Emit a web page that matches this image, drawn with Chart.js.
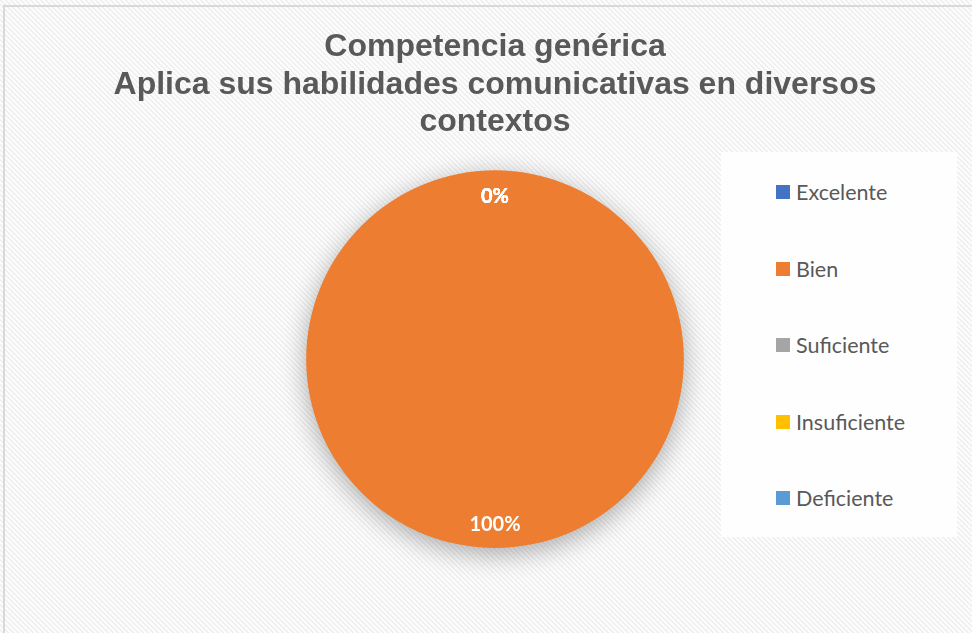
<!DOCTYPE html>
<html>
<head>
<meta charset="utf-8">
<script src="https://cdn.jsdelivr.net/npm/chart.js@4"></script>
<style>
  html, body { margin: 0; padding: 0; background: #fff; }
  #wrap { position: relative; width: 972px; height: 633px; overflow: hidden; }
  #legend {
    position: absolute; left: 721px; top: 152px; width: 236px; height: 385px;
    background: #fefefe; box-sizing: border-box; padding: 2px 0 0 55px;
    font-family: Lato, sans-serif; font-size: 21.5px; color: #595959;
  }
  .item { height: 76.5px; display: flex; align-items: center; }
  .sw { width: 14px; height: 14px; margin-right: 6px; flex: none; }
</style>
</head>
<body>
<div id="wrap">
  <canvas id="pieChart" width="972" height="633"></canvas>
  <div id="legend"></div>
</div>
<script>
// Data
const categories = ['Excelente', 'Bien', 'Suficiente', 'Insuficiente', 'Deficiente'];
const percentages = [0, 100, 0, 0, 0];
const sliceColors = ['#4472C4', '#ED7D31', '#A5A5A5', '#FFC000', '#5B9BD5'];
const titleLines = ['Competencia genérica', 'Aplica sus habilidades comunicativas en diversos', 'contextos'];

// striped background + thin frame, like the office chart area
const backgroundPlugin = {
    id: 'stripes',
    beforeDraw(chart) {
        const ctx = chart.ctx;
        const tile = document.createElement('canvas');
        tile.width = 5; tile.height = 5;
        const t = tile.getContext('2d');
        t.fillStyle = '#fcfcfc';
        t.fillRect(0, 0, 5, 5);
        t.fillStyle = '#efefef';
        for (let y = 0; y < 5; y++) {
            for (let x = 0; x < 5; x++) {
                if (((x - y) % 5 + 5) % 5 < 2) t.fillRect(x, y, 1, 1);
            }
        }
        ctx.save();
        ctx.fillStyle = ctx.createPattern(tile, 'repeat');
        ctx.fillRect(0, 0, chart.width, chart.height);
        ctx.strokeStyle = '#d9d9d9';
        ctx.lineWidth = 2;
        ctx.strokeRect(4, 6, chart.width + 10, chart.height + 10);
        ctx.restore();
    }
};

// soft shadow under the pie
const shadowPlugin = {
    id: 'pieShadow',
    beforeDatasetsDraw(chart) {
        const ctx = chart.ctx;
        ctx.save();
        ctx.shadowColor = 'rgba(0, 0, 0, 0.32)';
        ctx.shadowBlur = 26;
        ctx.shadowOffsetY = 6;
    },
    afterDatasetsDraw(chart) {
        chart.ctx.restore();
    }
};

// percentage labels inside the slices
const percentLabels = {
    id: 'percentLabels',
    afterDatasetsDraw(chart) {
        const ctx = chart.ctx;
        const meta = chart.getDatasetMeta(0);
        const values = chart.data.datasets[0].data;
        const total = values.reduce((a, b) => a + b, 0);
        ctx.save();
        ctx.font = 'bold 20px Lato, sans-serif';
        ctx.fillStyle = '#ffffff';
        ctx.textAlign = 'center';
        ctx.textBaseline = 'middle';
        meta.data.forEach((arc, i) => {
            const p = arc.getProps(['x', 'y', 'startAngle', 'endAngle', 'outerRadius'], true);
            const mid = (p.startAngle + p.endAngle) / 2;
            const r = p.outerRadius * 0.868;
            const text = Math.round(values[i] / total * 100) + '%';
            ctx.fillText(text, p.x + Math.cos(mid) * r, p.y + Math.sin(mid) * r + 1);
        });
        ctx.restore();
    }
};

const pieCtx = document.getElementById('pieChart').getContext('2d');
const pieChart = new Chart(pieCtx, {
    type: 'pie',
    data: {
        labels: categories,
        datasets: [{
            data: percentages,
            backgroundColor: sliceColors,
            borderWidth: 0
        }]
    },
    options: {
        responsive: false,
        animation: false,
        layout: { padding: { left: 18, right: 0, top: 0, bottom: 85 } },
        plugins: {
            legend: { display: false },
            tooltip: { enabled: false },
            title: {
                display: true,
                text: titleLines,
                color: '#595959',
                font: { family: '"Liberation Sans", Arial, sans-serif', size: 32, weight: 'bold', lineHeight: 1.16 },
                padding: { top: 29, bottom: 30 }
            }
        }
    },
    plugins: [backgroundPlugin, shadowPlugin, percentLabels]
});

// legend box on the right, built from the same arrays
const legendBox = document.getElementById('legend');
categories.forEach((name, i) => {
    const item = document.createElement('div');
    item.className = 'item';
    const sw = document.createElement('span');
    sw.className = 'sw';
    sw.style.background = sliceColors[i];
    item.appendChild(sw);
    item.appendChild(document.createTextNode(name));
    legendBox.appendChild(item);
});
</script>
</body>
</html>
